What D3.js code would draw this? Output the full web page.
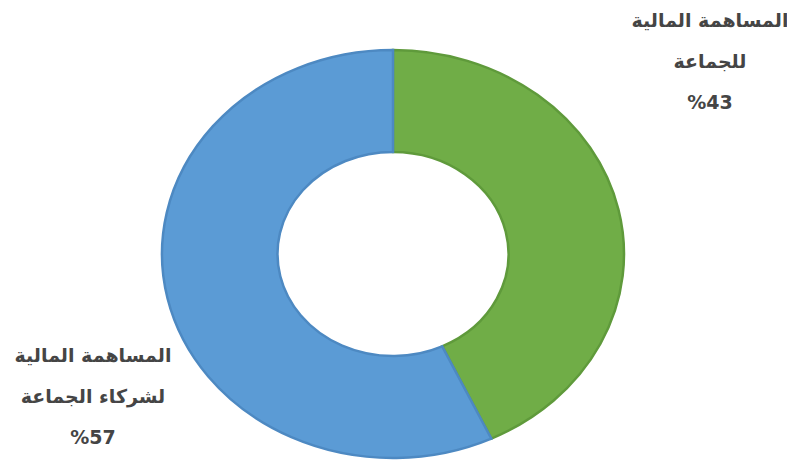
<!DOCTYPE html>
<html>
<head>
<meta charset="utf-8">
<script src="https://cdn.jsdelivr.net/npm/d3@7"></script>
<style>
  body { margin: 0; background: #fff; }
  .lbl { font-family: "DejaVu Sans", sans-serif; font-weight: bold; fill: #454545; font-size: 19px; }
</style>
</head>
<body>
<svg id="chart" width="787" height="462"></svg>
<script>
// slices, clockwise from the top
const names = ["المساهمة المالية للجماعة", "المساهمة المالية لشركاء الجماعة"];
const values = [43, 57];
const colors = ["#70AD47", "#5B9BD5"];
const strokes = ["#5f9a3b", "#4d89c2"];
// label lines for each slice
const labelLines = [
  ["المساهمة المالية", "للجماعة", "%43"],
  ["المساهمة المالية", "لشركاء الجماعة", "%57"]
];

const svg = d3.select("#chart");
const cx = 393, cy = 254;
const rx = 231, ry = 204;

let pie = d3.pie().sort(null).value(d => d);
let arc = d3.arc().innerRadius(rx * 0.5).outerRadius(rx);

// the source picture is stretched wider than tall
let g = svg.append("g")
  .attr("transform", `translate(${cx},${cy}) scale(1,${ry / rx})`);

g.selectAll("path")
  .data(pie(values))
  .enter()
  .append("path")
  .attr("d", arc)
  .attr("fill", (d, i) => colors[i])
  .attr("stroke", (d, i) => strokes[i])
  .attr("stroke-width", 2.5)
  .attr("vector-effect", "non-scaling-stroke")
;

// label blocks: top right and bottom left
const labelPos = [[710, 27], [93, 362]];
labelLines.forEach(function(lines, i) {
  let t = svg.append("text")
    .attr("class", "lbl")
    .attr("text-anchor", "middle");
  lines.forEach(function(s, j) {
    t.append("tspan")
      .attr("x", labelPos[i][0])
      .attr("y", labelPos[i][1] + j * 41)
      .text(s);
  });
});
</script>
</body>
</html>
